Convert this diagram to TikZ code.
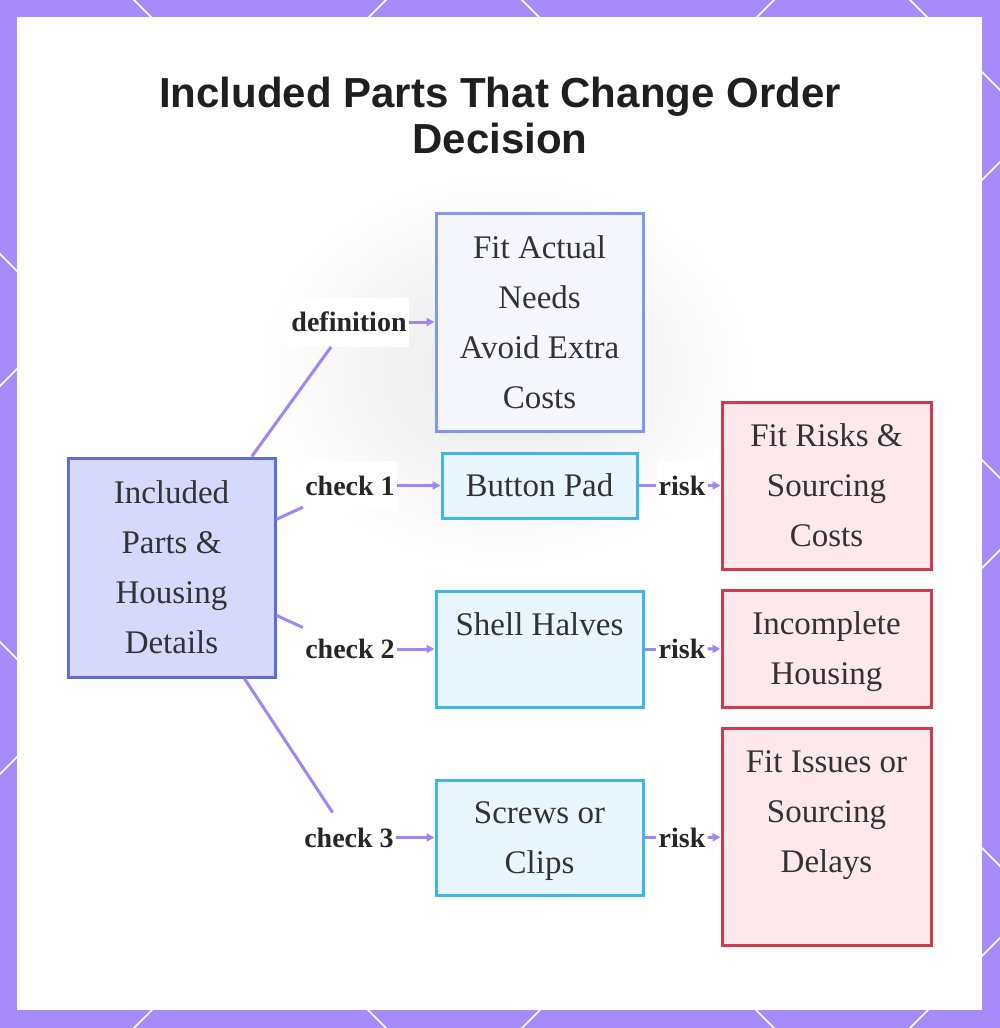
\documentclass[tikz,border=0pt]{standalone}
\usepackage{fontspec}
\setmainfont{Liberation Serif}
\newfontfamily\titlefont{Liberation Sans}
\usetikzlibrary{arrows.meta,positioning,calc}

\definecolor{framepurple}{HTML}{A78BFA}
\definecolor{linkpurple}{HTML}{A384F6}
\definecolor{hubfill}{HTML}{D6D9FB}
\definecolor{hubdraw}{HTML}{5B6ED6}
\definecolor{deffill}{HTML}{F6F7FE}
\definecolor{defdraw}{HTML}{7F97F2}
\definecolor{partfill}{HTML}{EAF6FD}
\definecolor{partdraw}{HTML}{3EB6E7}
\definecolor{riskfill}{HTML}{FDE8EB}
\definecolor{riskdraw}{HTML}{D23B4D}
\definecolor{inktext}{HTML}{333333}

\begin{document}
\begin{tikzpicture}[
      x=0.5pt, y=-0.5pt,
      box/.style={
        rectangle,
        draw,
        line width=1.5pt,
        align=center,
        inner sep=0pt,
        text=inktext,
        font=\fontsize{16.5}{25}\selectfont
      },
      hub/.style={box, fill=hubfill, draw=hubdraw},
      defbox/.style={box, fill=deffill, draw=defdraw},
      part/.style={box, fill=partfill, draw=partdraw},
      riskbox/.style={box, fill=riskfill, draw=riskdraw},
      lbl/.style={
        fill=white,
        text=black!85,
        inner xsep=1pt,
        minimum height=24.5pt,
        font=\bfseries\fontsize{14}{16}\selectfont
      },
      link/.style={draw=linkpurple, line width=1.5pt},
      arr/.style={link, -{Triangle[length=4pt,width=4pt]}}
    ]

    % Frame: purple backdrop with white lattice, white panel on top
    \useasboundingbox (0,0) rectangle (1000,1028);
    \fill[framepurple] (0,0) rectangle (1000,1028);
    \begin{scope}
      \clip (0,0) rectangle (1000,1028);
      \foreach \c in {-642,-254,134,522,910}
        \draw[white, line width=0.75pt] (\c-100,-100) -- (\c+1128,1128);
      \foreach \c in {386,774,1162,1550,1938}
        \draw[white, line width=0.75pt] (\c+100,-100) -- (\c-1128,1128);
    \end{scope}
    \fill[white] (17,17) rectangle (982,1010);
    \shade[inner color=black!9, outer color=white] (505,370) ellipse (250 and 200);

    % Title
    \node[font=\titlefont\bfseries\fontsize{21}{23}\selectfont, align=center,
      text=black!88] (title) at (500,115) {Included Parts That Change Order\\Decision};

    % Boxes (last lines smashed so that the text sits from the top)
    \node[hub, minimum width=103.5pt, minimum height=109.5pt] (hub) at (171.5,567.5)
      {Included\\Parts \&\\Housing\\Details};
    \node[defbox, minimum width=103.5pt, minimum height=109pt] (def) at (539.5,322)
      {Fit Actual\\Needs\\Avoid Extra\\Costs};
    \node[part, minimum width=97.5pt, minimum height=32.5pt] (pad) at (539.5,485.5)
      {Button Pad};
    \node[part, minimum width=103.5pt, minimum height=58pt] (shell) at (539.5,649)
      {Shell Halves\\\mbox{}};
    \node[part, minimum width=103.5pt, minimum height=57.5pt] (screws) at (539.5,837.5)
      {Screws or\\\smash{Clips}};
    \node[riskbox, minimum width=104.5pt, minimum height=83.5pt] (riskfit) at (826.5,485.5)
      {Fit Risks \&\\Sourcing\\Costs};
    \node[riskbox, minimum width=104.5pt, minimum height=58.5pt] (riskshell) at (826.5,648.5)
      {Incomplete\\\smash{Housing}};
    \node[riskbox, minimum width=104.5pt, minimum height=108.5pt] (riskdelay) at (826.5,836.5)
      {Fit Issues or\\Sourcing\\Delays\\\mbox{}};

    % Edge labels
    \node[lbl] (deflbl) at (349,322) {definition};
    \node[lbl] (chk1) at (350,485.5) {check 1};
    \node[lbl] (chk2) at (350,649) {check 2};
    \node[lbl] (chk3) at (349,837.5) {check 3};
    \node[lbl] (risk1) at (682,485.5) {risk};
    \node[lbl] (risk2) at (682,649) {risk};
    \node[lbl] (risk3) at (682,837.5) {risk};

    % Edges
    \draw[link] (hub) -- (deflbl);
    \draw[arr] (deflbl) -- (def);
    \draw[link] (hub) -- (chk1);
    \draw[arr] (chk1) -- (pad);
    \draw[link] (hub) -- (chk2);
    \draw[arr] (chk2) -- (shell);
    \draw[link] (hub) -- (chk3);
    \draw[arr] (chk3) -- (screws);

    \draw[link] (pad) -- (risk1);
    \draw[arr] (risk1) -- (riskfit);
    \draw[link] (shell) -- (risk2);
    \draw[arr] (risk2) -- (riskshell);
    \draw[link] (screws) -- (risk3);
    \draw[arr] (risk3) -- (riskdelay);

    \end{tikzpicture}
\end{document}
